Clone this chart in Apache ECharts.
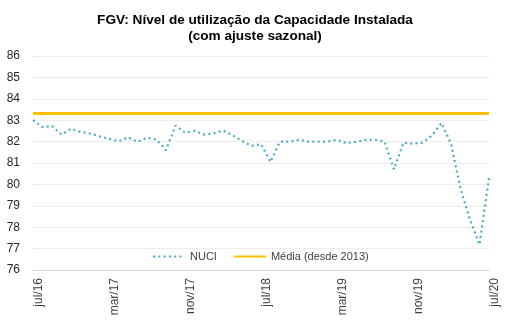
<!DOCTYPE html>
<html>
<head>
<meta charset="utf-8">
<script src="https://cdn.jsdelivr.net/npm/echarts@6/dist/echarts.min.js"></script>
<style>
html,body{margin:0;padding:0;background:#fff;}
#chart{width:510px;height:324px;}
</style>
</head>
<body>
<div id="chart"></div>
<script>
const categories = [
  'jul/16','ago/16','set/16','out/16','nov/16','dez/16',
  'jan/17','fev/17','mar/17','abr/17','mai/17','jun/17','jul/17','ago/17','set/17','out/17','nov/17','dez/17',
  'jan/18','fev/18','mar/18','abr/18','mai/18','jun/18','jul/18','ago/18','set/18','out/18','nov/18','dez/18',
  'jan/19','fev/19','mar/19','abr/19','mai/19','jun/19','jul/19','ago/19','set/19','out/19','nov/19','dez/19',
  'jan/20','fev/20','mar/20','abr/20','mai/20','jun/20','jul/20'
];
const nuci = [
  83.0, 82.68, 82.73, 82.33, 82.6, 82.45,
  82.38, 82.25, 82.13, 82.01, 82.2, 81.99, 82.18, 82.1, 81.6, 82.75, 82.42, 82.5,
  82.33, 82.38, 82.52, 82.3, 82.03, 81.8, 81.88, 81.05, 82.0, 82.0, 82.08, 82.0,
  82.0, 82.0, 82.08, 81.93, 81.99, 82.08, 82.09, 82.0, 80.7, 81.95, 81.9, 81.95,
  82.28, 82.87, 81.9, 79.8, 78.35, 77.18, 80.3
];
const mediaDesde2013 = 83.33;
const seriesNames = ['NUCI', 'Média (desde 2013)'];
const titleText = 'FGV: Nível de utilização da Capacidade Instalada\n(com ajuste sazonal)';

const chart = echarts.init(document.getElementById('chart'), null, {renderer: 'canvas'});
chart.setOption({
  animation: false,
  backgroundColor: '#ffffff',
  title: {
    text: titleText,
    left: 'center',
    top: 7,
    textStyle: {
      fontFamily: 'Liberation Sans, Arial, sans-serif',
      fontSize: 13.6,
      fontWeight: 'bold',
      color: '#000000',
      lineHeight: 16
    }
  },
  legend: {
    data: seriesNames,
    left: 147,
    top: 246,
    itemWidth: 32,
    itemHeight: 10,
    itemGap: 16,
    itemStyle: {opacity: 0},
    textStyle: {
      fontFamily: 'Liberation Sans, Arial, sans-serif',
      fontSize: 11,
      color: '#404040'
    }
  },
  grid: {left: 33, right: 21, top: 56, bottom: 54},
  xAxis: {
    type: 'category',
    data: categories,
    boundaryGap: false,
    axisLine: {show: true, lineStyle: {color: '#d9d9d9', width: 1}},
    axisTick: {show: false},
    splitLine: {show: false},
    axisLabel: {
      interval: 7,
      rotate: 90,
      margin: 8,
      verticalAlign: 'top',
      fontFamily: 'Liberation Sans, Arial, sans-serif',
      fontSize: 12,
      color: '#404040'
    }
  },
  yAxis: {
    type: 'value',
    min: 76,
    max: 86,
    interval: 1,
    axisLine: {show: false},
    axisTick: {show: false},
    splitLine: {lineStyle: {color: '#ededed', width: 1}},
    axisLabel: {
      margin: 13,
      fontFamily: 'Liberation Sans, Arial, sans-serif',
      fontSize: 12,
      color: '#262626'
    }
  },
  series: [
    {
      name: seriesNames[0],
      type: 'line',
      data: nuci,
      symbol: 'none',
      showSymbol: false,
      color: '#4bacc6',
      lineStyle: {color: '#4bacc6', width: 2.2, type: [2, 3.3]},
      z: 3
    },
    {
      name: seriesNames[1],
      type: 'line',
      data: [],
      symbol: 'none',
      color: '#ffc000',
      lineStyle: {color: '#ffc000', width: 3},
      markLine: {
        silent: true,
        symbol: 'none',
        label: {show: false},
        lineStyle: {color: '#ffc000', width: 3, type: 'solid'},
        data: [{yAxis: mediaDesde2013}]
      },
      z: 2
    }
  ]
});
</script>
</body>
</html>
